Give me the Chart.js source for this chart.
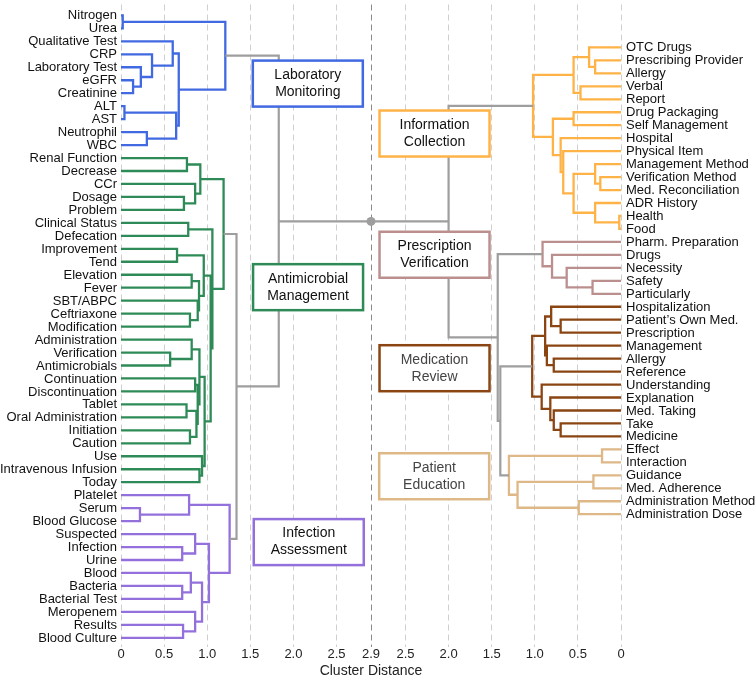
<!DOCTYPE html>
<html><head><meta charset="utf-8">
<script src="https://cdn.jsdelivr.net/npm/chart.js@4.4.0/dist/chart.umd.min.js"></script>
<style>html,body{margin:0;padding:0;background:#fff;} #c{display:block;}</style>
</head><body>
<canvas id="c" width="756" height="681"></canvas>
<script>
const FONT = '"Liberation Sans", Arial, Helvetica, sans-serif';

// ---------- LEFT side (distance read on left axis) ----------
const labLeaves = ['Nitrogen','Urea','Qualitative Test','CRP','Laboratory Test','eGFR','Creatinine','ALT','AST','Neutrophil','WBC'];
const labLinks = [[0,1,0.02],[5,6,0.14],[4,12,0.23],[3,13,0.36],[2,14,0.60],[7,8,0.04],[9,10,0.30],[16,17,0.64],[15,18,0.67],[11,19,1.21]];

const amLeaves = ['Renal Function','Decrease','CCr','Dosage','Problem','Clinical Status','Defecation','Improvement','Tend','Elevation','Fever','SBT/ABPC','Ceftriaxone','Modification','Administration','Verification','Antimicrobials','Continuation','Discontinuation','Tablet','Oral Administration','Initiation','Caution','Use','Intravenous Infusion','Today'];
const amLinks = [[0,1,0.765],[3,4,0.73],[2,27,0.86],[26,28,0.92],[5,6,0.78],[7,8,0.65],[9,10,0.82],[12,13,0.80],[11,33,0.89],[32,34,0.905],[31,35,0.96],[15,16,0.57],[14,37,0.82],[17,18,0.86],[19,20,0.76],[21,22,0.80],[40,41,0.875],[39,42,0.89],[38,43,0.91],[24,25,0.91],[23,45,0.94],[44,46,0.97],[36,47,1.04],[30,48,1.06],[29,49,1.19]];

const iaLeaves = ['Platelet','Serum','Blood Glucose','Suspected','Infection','Urine','Blood','Bacteria','Bacterial Test','Meropenem','Results','Blood Culture'];
const iaLinks = [[1,2,0.22],[0,12,0.79],[4,5,0.71],[3,14,0.86],[7,8,0.71],[6,16,0.81],[10,11,0.72],[9,18,0.86],[17,19,0.94],[15,20,1.02],[13,21,1.26]];

const leftJoins = [[1,2,1.34],[0,3,1.83]];

// ---------- RIGHT side (distance read on right axis) ----------
const icLeaves = ['OTC Drugs','Prescribing Provider','Allergy','Verbal','Report','Drug Packaging','Self Management','Hospital','Physical Item','Management Method','Verification Method','Med. Reconciliation','ADR History','Health','Food'];
const icLinks = [[1,2,0.30],[0,15,0.37],[3,4,0.47],[16,17,0.55],[5,6,0.55],[10,11,0.24],[9,20,0.30],[13,14,0.02],[12,22,0.30],[21,23,0.55],[8,24,0.67],[7,25,0.70],[19,26,0.79],[18,27,1.02]];

const pvLeaves = ['Pharm. Preparation','Drugs','Necessity','Safety','Particularly'];
const pvLinks = [[3,4,0.33],[2,5,0.63],[1,6,0.80],[0,7,0.91]];

const mrLeaves = ['Hospitalization','Patient\u2019s Own Med.','Prescription','Management','Allergy','Reference','Understanding','Explanation','Med. Taking','Take','Medicine'];
const mrLinks = [[1,2,0.70],[0,11,0.81],[4,5,0.78],[3,13,0.86],[12,14,0.88],[9,10,0.70],[8,16,0.78],[7,17,0.82],[6,18,0.92],[15,19,1.03]];

const peLeaves = ['Effect','Interaction','Guidance','Med. Adherence','Administration Method','Administration Dose'];
const peLinks = [[0,1,0.22],[2,3,0.32],[4,5,0.49],[7,8,1.20],[6,9,1.30]];

const rightJoins = [[2,3,1.40],[1,4,1.43],[0,5,2.00]];

// ---------- axis ----------
const midDistance = 2.9;
const xTickValues = [0,0.5,1.0,1.5,2.0,2.5,2.9,3.3,3.8,4.3,4.8,5.3,5.8];
const xTickLabels = ['0','0.5','1.0','1.5','2.0','2.5','2.9','2.5','2.0','1.5','1.0','0.5','0'];
const rightLeafOffset = 2.47;

// ---------- styles ----------
const COL = {lab:'#4169E1', am:'#2E8B57', ia:'#9370DB', ic:'#FFB347', pv:'#BC8F8F', mr:'#8B4513', pe:'#DEB887', join:'#9E9E9E'};
const boxes = [
  {lines:['Laboratory','Monitoring'], color:COL.lab, cx:2.167, cy:5.26, text:'#111'},
  {lines:['Antimicrobial','Management'], color:COL.am, cx:2.17, cy:20.96, text:'#111'},
  {lines:['Infection','Assessment'], color:COL.ia, cx:2.178, cy:40.62, text:'#111'},
  {lines:['Information','Collection'], color:COL.ic, cx:3.637, cy:9.11, text:'#111'},
  {lines:['Prescription','Verification'], color:COL.pv, cx:3.637, cy:18.46, text:'#111'},
  {lines:['Medication','Review'], color:COL.mr, cx:3.637, cy:27.21, text:'#444'},
  {lines:['Patient','Education'], color:COL.pe, cx:3.633, cy:35.54, text:'#444'}
];

// ---------- build trees ----------
function buildTree(leaves, links, offset, toX) {
  const nodes = leaves.map((_, i) => ({ y: offset + i, h: 0 }));
  const pts = [];
  links.forEach(([a, b, h]) => {
    const A = nodes[a], B = nodes[b];
    pts.push({x:toX(A.h),y:A.y},{x:toX(h),y:A.y},{x:toX(h),y:B.y},{x:toX(B.h),y:B.y},{x:NaN,y:NaN});
    nodes.push({ y: (A.y + B.y) / 2, h });
  });
  return { root: nodes[nodes.length - 1], pts };
}
function joinRoots(roots, joins, toX, pts) {
  const nodes = roots.slice();
  joins.forEach(([a, b, h]) => {
    const A = nodes[a], B = nodes[b];
    pts.push({x:toX(A.h),y:A.y},{x:toX(h),y:A.y},{x:toX(h),y:B.y},{x:toX(B.h),y:B.y},{x:NaN,y:NaN});
    nodes.push({ y: (A.y + B.y) / 2, h });
  });
  return nodes[nodes.length - 1];
}
const L = d => d, R = d => 2 * midDistance - d;
const leftSets = [[labLeaves,labLinks,COL.lab],[amLeaves,amLinks,COL.am],[iaLeaves,iaLinks,COL.ia]];
const rightSets = [[icLeaves,icLinks,COL.ic],[pvLeaves,pvLinks,COL.pv],[mrLeaves,mrLinks,COL.mr],[peLeaves,peLinks,COL.pe]];
const datasets = [];
const leftLabels = [], rightLabels = [];
const leftRoots = [], rightRoots = [];
let off = 0;
leftSets.forEach(([lv, lk, c]) => {
  const t = buildTree(lv, lk, off, L);
  lv.forEach((n, i) => leftLabels.push({t:n, y:off + i}));
  leftRoots.push(t.root); off += lv.length;
  datasets.push({data:t.pts, borderColor:c, borderWidth:2.3});
});
off = rightLeafOffset;
rightSets.forEach(([lv, lk, c]) => {
  const t = buildTree(lv, lk, off, R);
  lv.forEach((n, i) => rightLabels.push({t:n, y:off + i}));
  rightRoots.push(t.root); off += lv.length;
  datasets.push({data:t.pts, borderColor:c, borderWidth:2.3});
});
const grayPts = [];
const lTop = joinRoots(leftRoots, leftJoins, L, grayPts);
const rTop = joinRoots(rightRoots, rightJoins, R, grayPts);
const cy = (lTop.y + rTop.y) / 2;
grayPts.push({x:L(lTop.h),y:cy},{x:R(rTop.h),y:cy});
datasets.unshift({data:grayPts, borderColor:COL.join, borderWidth:2.2});
datasets.push({data:[{x:midDistance,y:cy}], showLine:false, pointRadius:4.5, pointBackgroundColor:COL.join, pointBorderWidth:0});
datasets.forEach(d => { if (d.showLine === undefined) { d.showLine = true; d.pointRadius = 0; } d.spanGaps = false; d.borderJoinStyle = 'miter'; d.borderCapStyle='butt'; d.fill = false; });

const overlay = {
  id:'overlay',
  afterDatasetsDraw(chart) {
    const ctx = chart.ctx, xs = chart.scales.x, ys = chart.scales.y;
    ctx.save();
    boxes.forEach(b => {
      const px = xs.getPixelForValue(b.cx), py = ys.getPixelForValue(b.cy);
      const w = 110, h = 46;
      ctx.fillStyle = '#fff';
      ctx.fillRect(px - w/2, py - h/2, w, h);
      ctx.strokeStyle = b.color; ctx.lineWidth = 2.5;
      ctx.strokeRect(px - w/2, py - h/2, w, h);
      ctx.fillStyle = b.text; ctx.font = '14px ' + FONT;
      ctx.textAlign = 'center'; ctx.textBaseline = 'middle';
      ctx.fillText(b.lines[0], px, py - 8.5);
      ctx.fillText(b.lines[1], px, py + 8.5);
    });
    ctx.font = '13px ' + FONT; ctx.fillStyle = '#111'; ctx.textBaseline = 'middle';
    ctx.textAlign = 'right';
    const x0 = xs.getPixelForValue(0) - 4;
    leftLabels.forEach(l => ctx.fillText(l.t, x0, ys.getPixelForValue(l.y) + 0.5));
    ctx.textAlign = 'left';
    const x1 = xs.getPixelForValue(2 * midDistance) + 5;
    rightLabels.forEach(l => ctx.fillText(l.t, x1, ys.getPixelForValue(l.y) + 0.5));
    ctx.restore();
  }
};

new Chart(document.getElementById('c'), {
  type:'scatter',
  data:{datasets},
  options:{
    responsive:false, animation:false, devicePixelRatio:1,
    layout:{padding:{left:121, right:135, top:0, bottom:1.6}},
    plugins:{legend:{display:false}, tooltip:{enabled:false}},
    scales:{
      x:{type:'linear', min:0, max:2*midDistance,
         afterBuildTicks: s => { s.ticks = xTickValues.map(v => ({value:v})); },
         ticks:{callback:(v,i) => xTickLabels[i], font:{size:13, family:FONT}, color:'#222', padding:0, maxRotation:0, autoSkip:false},
         grid:{drawTicks:false, lineWidth:1, color: c => (c.tick && Math.abs(c.tick.value - midDistance) < 1e-6) ? '#8a8a8a' : '#cfcfcf'},
         border:{display:false, dash:[6,4]},
         title:{display:true, text:'Cluster Distance', font:{size:14, family:FONT}, color:'#222', padding:{top:0, bottom:0}}
      },
      y:{type:'linear', reverse:true, min:-0.84, max:48.71, display:false}
    }
  },
  plugins:[overlay]
});
</script>
</body></html>
